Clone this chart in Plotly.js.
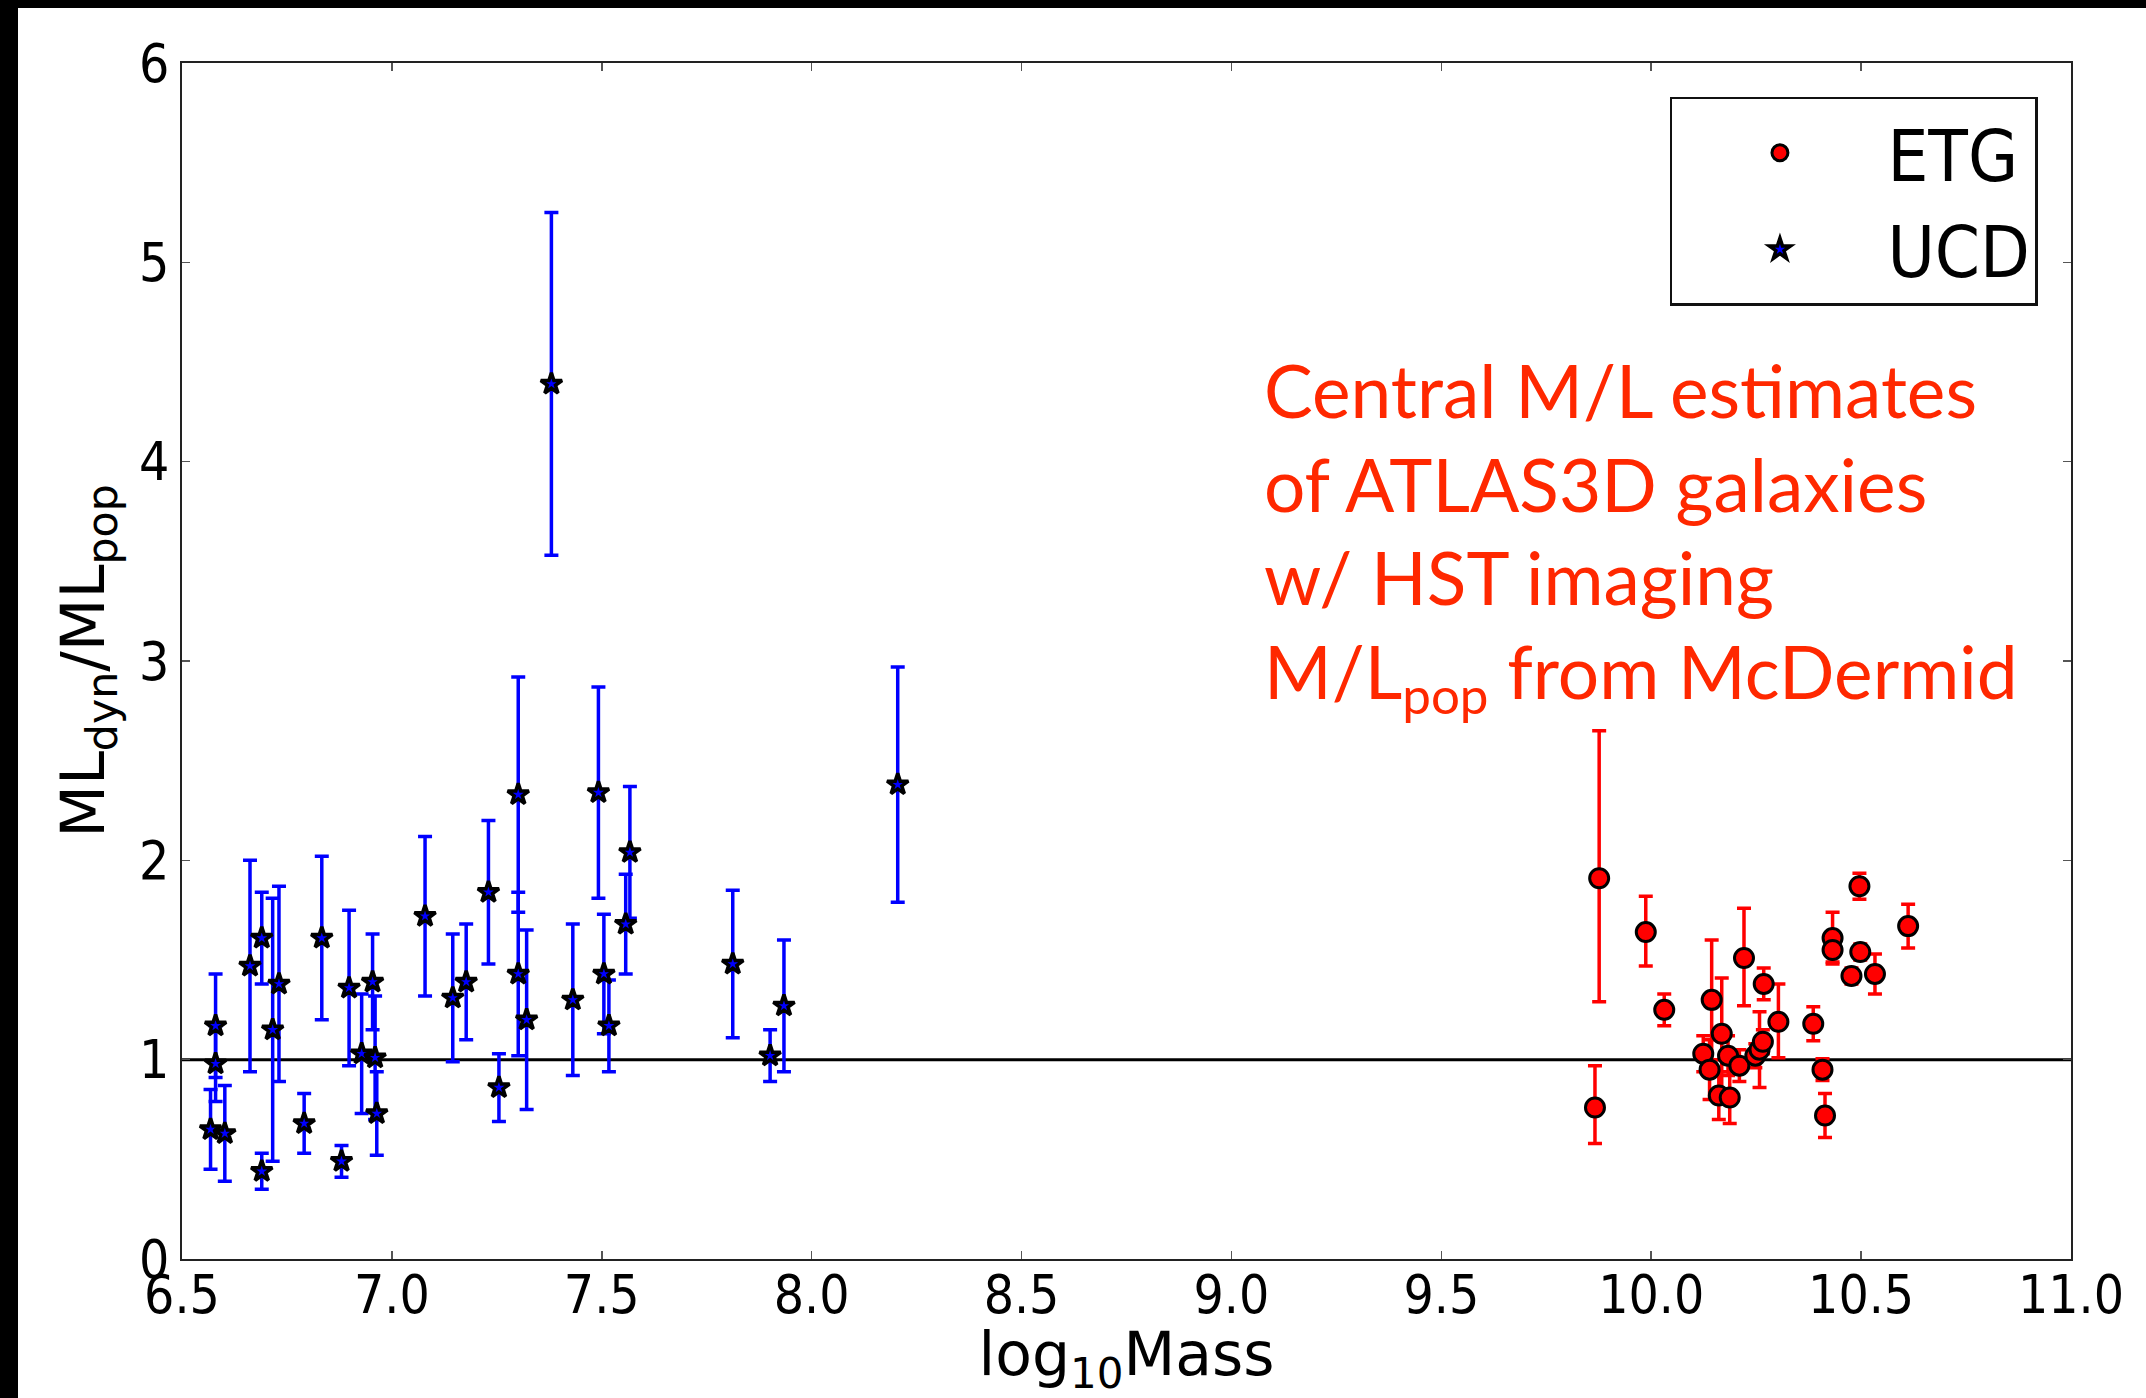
<!DOCTYPE html>
<html>
<head>
<meta charset="utf-8">
<script src="https://cdn.plot.ly/plotly-3.0.1.min.js"></script>
<style>
  html, body { margin: 0; padding: 0; background: #000; width: 2146px; height: 1398px; overflow: hidden; }
  #chart { position: absolute; left: 18px; top: 8px; width: 2128px; height: 1390px; background: #fff; }
</style>
</head>
<body>
<div id="chart"></div>
<script>
// ---- Data ----
// UCDs (stars, blue error bars)
const ucdMass = [6.580, 6.580, 6.568, 6.602, 6.662, 6.690, 6.690, 6.716, 6.731, 6.791,
                 6.833, 6.880, 6.898, 6.928, 6.954, 6.960, 6.964, 7.079, 7.145, 7.177,
                 7.230, 7.255, 7.301, 7.301, 7.321, 7.380, 7.431, 7.492, 7.505, 7.517,
                 7.557, 7.567, 7.812, 7.901, 7.934, 8.205];
const ucdML   = [1.17, 0.98, 0.65, 0.63, 1.47, 1.61, 0.44, 1.15, 1.38, 0.68,
                 1.61, 0.49, 1.36, 1.03, 1.39, 1.01, 0.73, 1.72, 1.31, 1.39,
                 1.84, 0.86, 2.33, 1.43, 1.20, 4.39, 1.30, 2.34, 1.43, 1.17,
                 1.68, 2.04, 1.48, 1.02, 1.27, 2.38];
const ucdErr  = [0.26, 0.19, 0.20, 0.24, 0.53, 0.23, 0.09, 0.66, 0.49, 0.15,
                 0.41, 0.08, 0.39, 0.30, 0.24, 0.31, 0.21, 0.40, 0.32, 0.29,
                 0.36, 0.17, 0.59, 0.41, 0.45, 0.86, 0.38, 0.53, 0.30, 0.23,
                 0.25, 0.33, 0.37, 0.13, 0.33, 0.59];

// ETGs (red circles, red error bars)
const etgMass = [9.866, 9.876, 9.987, 10.031, 10.124, 10.139, 10.144, 10.161, 10.168, 10.183,
                 10.187, 10.210, 10.221, 10.248, 10.258, 10.266, 10.268, 10.303, 10.386, 10.408,
                 10.414, 10.432, 10.432, 10.477, 10.496, 10.498, 10.533, 10.612];
const etgML   = [0.76, 1.91, 1.64, 1.25, 1.03, 0.95, 1.30, 0.82, 1.13, 1.02,
                 0.81, 0.97, 1.51, 1.02, 1.05, 1.09, 1.38, 1.19, 1.18, 0.95,
                 0.72, 1.61, 1.55, 1.42, 1.87, 1.54, 1.43, 1.67];
const etgErrPlus  = [0.21, 0.74, 0.18, 0.08, 0.09, 0.15, 0.30, 0.12, 0.28, 0.10,
                     0.13, 0.08, 0.25, 0.06, 0.19, 0.06, 0.08, 0.19, 0.085, 0.055,
                     0.11, 0.13, 0.06, 0.04, 0.065, 0.04, 0.10, 0.11];
const etgErrMinus = [0.18, 0.62, 0.17, 0.08, 0.09, 0.15, 0.30, 0.12, 0.28, 0.10,
                     0.13, 0.08, 0.24, 0.06, 0.19, 0.06, 0.08, 0.18, 0.085, 0.055,
                     0.11, 0.13, 0.06, 0.04, 0.065, 0.04, 0.10, 0.11];

const referenceLevel = 1;
const xTicks = [6.5, 7.0, 7.5, 8.0, 8.5, 9.0, 9.5, 10.0, 10.5, 11.0];
const xTickText = ["6.5", "7.0", "7.5", "8.0", "8.5", "9.0", "9.5", "10.0", "10.5", "11.0"];
const yTicks = [0, 1, 2, 3, 4, 5, 6];
const yTickText = ["0", "1", "2", "3", "4", "5", "6"];
const seriesNames = ["ETG", "UCD"];
const noteLines = ["Central M/L estimates", "of ATLAS3D galaxies", "w/ HST imaging",
                   "M/L<sub>pop</sub> from McDermid"];

// ---- Chart ----
const FONT = '"DejaVu Sans Condensed", "DejaVu Sans", sans-serif';
const FONT_WIDE = '"DejaVu Sans", sans-serif';
const RED = 'rgb(255,0,0)';
const BLUE = 'rgb(0,0,255)';
const NOTE = 'rgb(255,40,0)';

const etgTrace = {
  type: 'scatter', mode: 'markers', name: seriesNames[0],
  x: etgMass, y: etgML,
  error_y: { type: 'data', symmetric: false, array: etgErrPlus, arrayminus: etgErrMinus,
             color: RED, thickness: 3.5, width: 7 },
  marker: { symbol: 'circle', size: 19, color: RED, line: { color: '#000', width: 3 } }
};
const ucdTrace = {
  type: 'scatter', mode: 'markers', name: seriesNames[1],
  x: ucdMass, y: ucdML,
  error_y: { type: 'data', array: ucdErr, color: BLUE, thickness: 3.5, width: 7 },
  marker: { symbol: 'star', size: 16, color: BLUE, line: { color: '#000', width: 3.5 } }
};

const noteY = [4.36, 3.886, 3.42, 2.925];
const annotations = noteLines.map((t, i) => ({
  text: t, x: 9.073, y: noteY[i], xref: 'x', yref: 'y',
  xanchor: 'left', yanchor: 'middle', showarrow: false,
  font: { family: 'Lato, "Open Sans", sans-serif', size: 73, color: NOTE }
}));

const axisCommon = {
  showgrid: false, zeroline: false, showline: true, linecolor: '#222', linewidth: 2,
  mirror: 'ticks', ticks: 'inside', ticklen: 8, tickwidth: 1.5, tickcolor: '#555',
  tickfont: { family: FONT, size: 53, color: '#000' }
};

const layout = {
  width: 2128, height: 1390,
  paper_bgcolor: '#fff', plot_bgcolor: '#fff',
  margin: { l: 164, r: 75, t: 55, b: 139 },
  showlegend: true,
  legend: {
    x: 0.9825, y: 0.9716, xanchor: 'right', yanchor: 'top',
    bgcolor: '#fff', bordercolor: '#111', borderwidth: 2.5,
    font: { family: FONT, size: 72, color: '#000' },
    itemwidth: 205
  },
  xaxis: Object.assign({}, axisCommon, {
    range: [6.5, 11], tickmode: 'array', tickvals: xTicks, ticktext: xTickText,
    ticklabelstandoff: -12,
    title: { text: 'log<sub>10</sub>Mass', font: { family: FONT_WIDE, size: 60, color: '#000' }, standoff: 26 }
  }),
  yaxis: Object.assign({}, axisCommon, {
    range: [0, 6], tickmode: 'array', tickvals: yTicks, ticktext: yTickText,
    title: { text: 'ML<sub>dyn</sub>/ML<sub>pop</sub>', font: { family: FONT_WIDE, size: 61, color: '#000' }, standoff: 15 }
  }),
  shapes: [{
    type: 'line', xref: 'paper', x0: 0, x1: 1, yref: 'y', y0: referenceLevel, y1: referenceLevel,
    line: { color: '#000', width: 3 }, layer: 'below'
  }],
  annotations: annotations
};

Plotly.newPlot('chart', [etgTrace, ucdTrace], layout, { displayModeBar: false, staticPlot: true });
</script>
</body>
</html>
